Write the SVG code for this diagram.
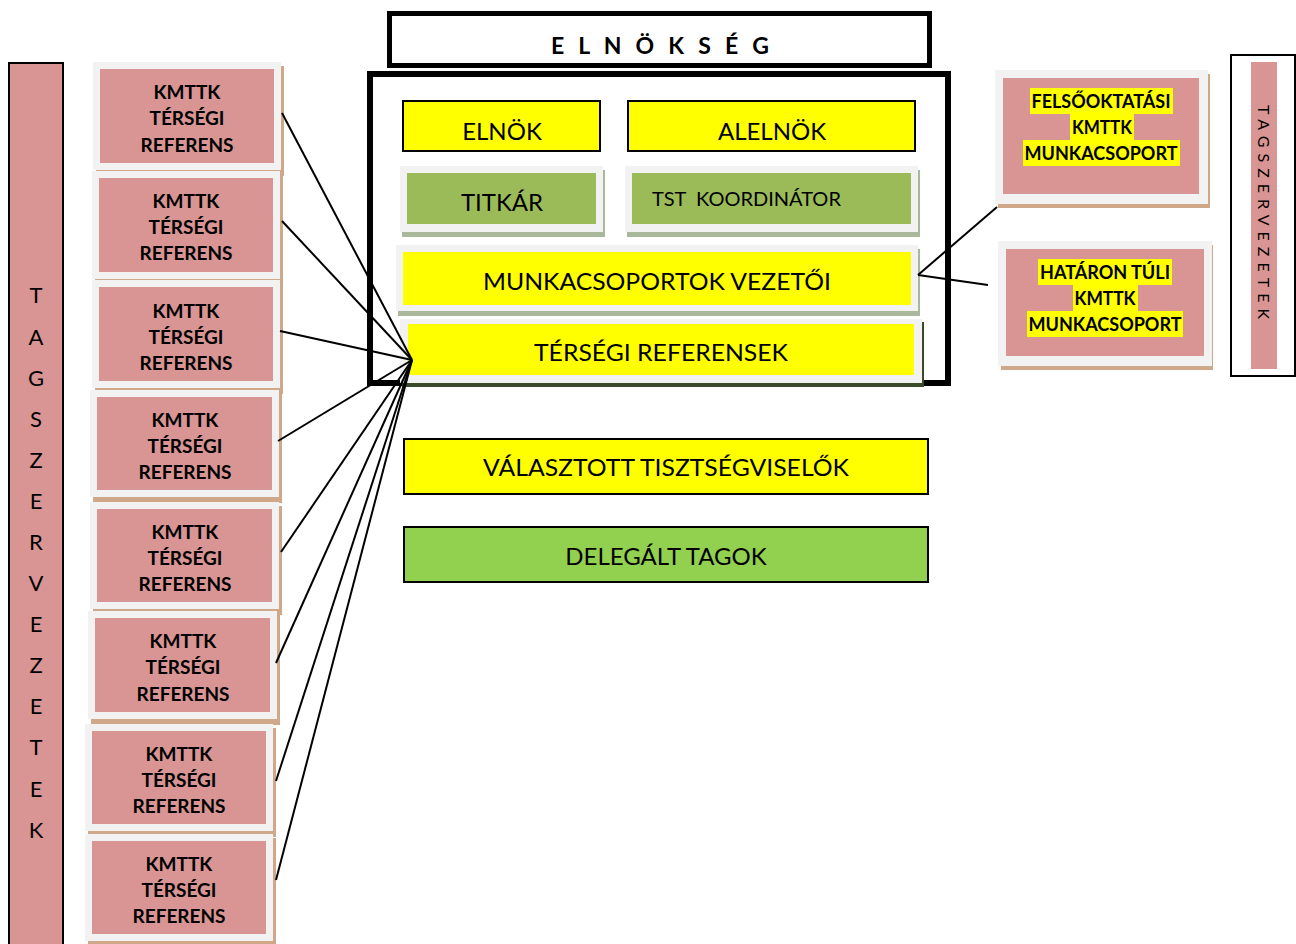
<svg xmlns="http://www.w3.org/2000/svg" width="1296" height="944" viewBox="0 0 1296 944">
<style>
text{font-family:Lato,"Open Sans","Liberation Sans",sans-serif;fill:#000}
.ref{font-size:19px;font-weight:bold;text-anchor:middle}
.lbl{font-size:24px;text-anchor:middle}
.pink{fill:#D99594}
.frame{fill:#F2F2F2}
.tan{fill:#CFA88A}
.gsh{fill:#A9B79A}
.yel{fill:#FFFF00}
.box{stroke:#000;stroke-width:2}
.con line{stroke:#000;stroke-width:2}
.hl{fill:#FFFF00}
.vl{font-size:22px;text-anchor:middle}
</style>
<rect width="1296" height="944" fill="#fff"/>

<g id="tagszervezetek-left">
<rect x="9" y="63" width="54" height="890" class="pink" stroke="#000" stroke-width="2"/>
<text class="vl" x="36" y="303">T</text>
<text class="vl" x="36" y="345">A</text>
<text class="vl" x="36" y="386">G</text>
<text class="vl" x="36" y="427">S</text>
<text class="vl" x="36" y="468">Z</text>
<text class="vl" x="36" y="509">E</text>
<text class="vl" x="36" y="550">R</text>
<text class="vl" x="36" y="591">V</text>
<text class="vl" x="36" y="632">E</text>
<text class="vl" x="36" y="673">Z</text>
<text class="vl" x="36" y="714">E</text>
<text class="vl" x="36" y="755">T</text>
<text class="vl" x="36" y="797">E</text>
<text class="vl" x="36" y="838">K</text>
</g>

<g id="ref1">
<rect x="96" y="66" width="188" height="110" class="tan"/>
<rect x="93" y="62" width="188" height="108" class="frame"/>
<rect x="100" y="69" width="174" height="94" class="pink"/>
<text class="ref" x="187" y="99">KMTTK</text><text class="ref" x="187" y="125">TÉRSÉGI</text><text class="ref" x="187" y="152">REFERENS</text>
</g>
<g id="ref2">
<rect x="95" y="175" width="188" height="110" class="tan"/>
<rect x="92" y="171" width="188" height="108" class="frame"/>
<rect x="99" y="178" width="174" height="94" class="pink"/>
<text class="ref" x="186" y="208">KMTTK</text><text class="ref" x="186" y="234">TÉRSÉGI</text><text class="ref" x="186" y="260">REFERENS</text>
</g>
<g id="ref3">
<rect x="95" y="284" width="188" height="110" class="tan"/>
<rect x="92" y="280" width="188" height="108" class="frame"/>
<rect x="99" y="287" width="174" height="94" class="pink"/>
<text class="ref" x="186" y="318">KMTTK</text><text class="ref" x="186" y="344">TÉRSÉGI</text><text class="ref" x="186" y="370">REFERENS</text>
</g>
<g id="ref4">
<rect x="93" y="394" width="189" height="109" class="tan"/>
<rect x="90" y="390" width="189" height="107" class="frame"/>
<rect x="97" y="397" width="175" height="93" class="pink"/>
<text class="ref" x="185" y="427">KMTTK</text><text class="ref" x="185" y="453">TÉRSÉGI</text><text class="ref" x="185" y="479">REFERENS</text>
</g>
<g id="ref5">
<rect x="93" y="506" width="189" height="109" class="tan"/>
<rect x="90" y="502" width="189" height="107" class="frame"/>
<rect x="97" y="509" width="175" height="93" class="pink"/>
<text class="ref" x="185" y="539">KMTTK</text><text class="ref" x="185" y="565">TÉRSÉGI</text><text class="ref" x="185" y="591">REFERENS</text>
</g>
<g id="ref6">
<rect x="91" y="615" width="189" height="110" class="tan"/>
<rect x="88" y="611" width="189" height="108" class="frame"/>
<rect x="95" y="618" width="175" height="94" class="pink"/>
<text class="ref" x="183" y="648">KMTTK</text><text class="ref" x="183" y="674">TÉRSÉGI</text><text class="ref" x="183" y="701">REFERENS</text>
</g>
<g id="ref7">
<rect x="88" y="728" width="188" height="109" class="tan"/>
<rect x="85" y="724" width="188" height="107" class="frame"/>
<rect x="92" y="731" width="174" height="93" class="pink"/>
<text class="ref" x="179" y="761">KMTTK</text><text class="ref" x="179" y="787">TÉRSÉGI</text><text class="ref" x="179" y="813">REFERENS</text>
</g>
<g id="ref8">
<rect x="88" y="838" width="188" height="109" class="tan"/>
<rect x="85" y="834" width="188" height="107" class="frame"/>
<rect x="92" y="841" width="174" height="93" class="pink"/>
<text class="ref" x="179" y="871">KMTTK</text><text class="ref" x="179" y="897">TÉRSÉGI</text><text class="ref" x="179" y="923">REFERENS</text>
</g>

<g id="elnokseg-title">
<rect x="389.5" y="13.5" width="540" height="52" fill="#fff" stroke="#000" stroke-width="5"/>
<text x="660" y="54" font-size="23" font-weight="bold" text-anchor="middle" textLength="218" lengthAdjust="spacing">E L N Ö K S É G</text>
</g>

<g id="elnokseg-box">
<rect x="370" y="74" width="578" height="309" fill="#fff" stroke="#000" stroke-width="6"/>
</g>

<g id="elnok">
<rect x="403" y="101" width="197" height="50" class="yel box"/>
<text class="lbl" x="502" y="140">ELNÖK</text>
</g>
<g id="alelnok">
<rect x="628" y="101" width="287" height="50" class="yel box"/>
<text class="lbl" x="772" y="140">ALELNÖK</text>
</g>
<g id="titkar">
<rect x="402" y="170" width="203" height="67" class="gsh"/>
<rect x="400" y="166" width="203" height="66" class="frame"/>
<rect x="407" y="173" width="189" height="51" fill="#9BBB59"/>
<text class="lbl" x="502" y="211">TITKÁR</text>
</g>
<g id="tst">
<rect x="627" y="170" width="293" height="67" class="gsh"/>
<rect x="625" y="166" width="293" height="66" class="frame"/>
<rect x="632" y="173" width="279" height="51" fill="#9BBB59"/>
<text x="652" y="206" font-size="20" xml:space="preserve">TST  KOORDINÁTOR</text>
</g>
<g id="munkacsoportok-vezetoi">
<rect x="398" y="249" width="522" height="67" class="gsh"/>
<rect x="396" y="245" width="522" height="66" class="frame"/>
<rect x="403" y="252" width="508" height="53" class="yel"/>
<text class="lbl" x="657" y="290" textLength="348" lengthAdjust="spacingAndGlyphs">MUNKACSOPORTOK VEZETŐI</text>
</g>
<g id="tersegi-referensek">
<rect x="402" y="322" width="522" height="65" fill="#3A4A2A"/>
<rect x="400" y="319" width="522" height="64" class="frame"/>
<rect x="408" y="324" width="506" height="51" class="yel"/>
<text class="lbl" x="661" y="361" textLength="254" lengthAdjust="spacingAndGlyphs">TÉRSÉGI REFERENSEK</text>
</g>

<g id="valasztott">
<rect x="404" y="439" width="524" height="55" class="yel box"/>
<text class="lbl" x="666" y="476" textLength="366" lengthAdjust="spacingAndGlyphs">VÁLASZTOTT TISZTSÉGVISELŐK</text>
</g>
<g id="delegalt">
<rect x="404" y="527" width="524" height="55" fill="#92D050" class="box"/>
<text class="lbl" x="666" y="565">DELEGÁLT TAGOK</text>
</g>

<g id="felsooktatasi">
<rect x="998" y="74" width="212" height="134" class="tan"/>
<rect x="995" y="70" width="213" height="134" class="frame"/>
<rect x="1003" y="78" width="196" height="116" class="pink"/>
<rect x="1030" y="88" width="143" height="26" class="hl"/>
<rect x="1070" y="114" width="64" height="26" class="hl"/>
<rect x="1023" y="140" width="157" height="26" class="hl"/>
<text class="ref" x="1101" y="108" font-size="18" textLength="139" lengthAdjust="spacingAndGlyphs">FELSŐOKTATÁSI</text>
<text class="ref" x="1102" y="134" font-size="18" textLength="60" lengthAdjust="spacingAndGlyphs">KMTTK</text>
<text class="ref" x="1101" y="160" font-size="18" textLength="153" lengthAdjust="spacingAndGlyphs">MUNKACSOPORT</text>
</g>
<g id="hataron-tuli">
<rect x="1001" y="245" width="212" height="125" class="tan"/>
<rect x="998" y="241" width="214" height="125" class="frame"/>
<rect x="1006" y="249" width="198" height="107" class="pink"/>
<rect x="1038" y="259" width="134" height="26" class="hl"/>
<rect x="1073" y="285" width="65" height="26" class="hl"/>
<rect x="1027" y="311" width="156" height="26" class="hl"/>
<text class="ref" x="1105" y="279" font-size="18" textLength="130" lengthAdjust="spacingAndGlyphs">HATÁRON TÚLI</text>
<text class="ref" x="1105" y="305" font-size="18" textLength="61" lengthAdjust="spacingAndGlyphs">KMTTK</text>
<text class="ref" x="1105" y="331" font-size="18" textLength="153" lengthAdjust="spacingAndGlyphs">MUNKACSOPORT</text>
</g>

<g id="tagszervezetek-right">
<rect x="1231" y="55" width="64" height="321" fill="#fff" stroke="#000" stroke-width="2"/>
<rect x="1251" y="62" width="26" height="307" class="pink"/>
<text x="0" y="0" font-size="16" text-anchor="middle" textLength="214" lengthAdjust="spacing" transform="translate(1258,212) rotate(90)">TAGSZERVEZETEK</text>
</g>

<g id="connectors" class="con">
<line x1="282" y1="113" x2="412" y2="360"/>
<line x1="282" y1="221" x2="412" y2="360"/>
<line x1="280" y1="331" x2="412" y2="360"/>
<line x1="278" y1="441" x2="412" y2="360"/>
<line x1="281" y1="552" x2="412" y2="360"/>
<line x1="276" y1="663" x2="412" y2="360"/>
<line x1="276" y1="781" x2="412" y2="360"/>
<line x1="276" y1="880" x2="412" y2="360"/>
<line x1="918" y1="275" x2="997" y2="207"/>
<line x1="918" y1="275" x2="988" y2="285"/>
</g>
</svg>
